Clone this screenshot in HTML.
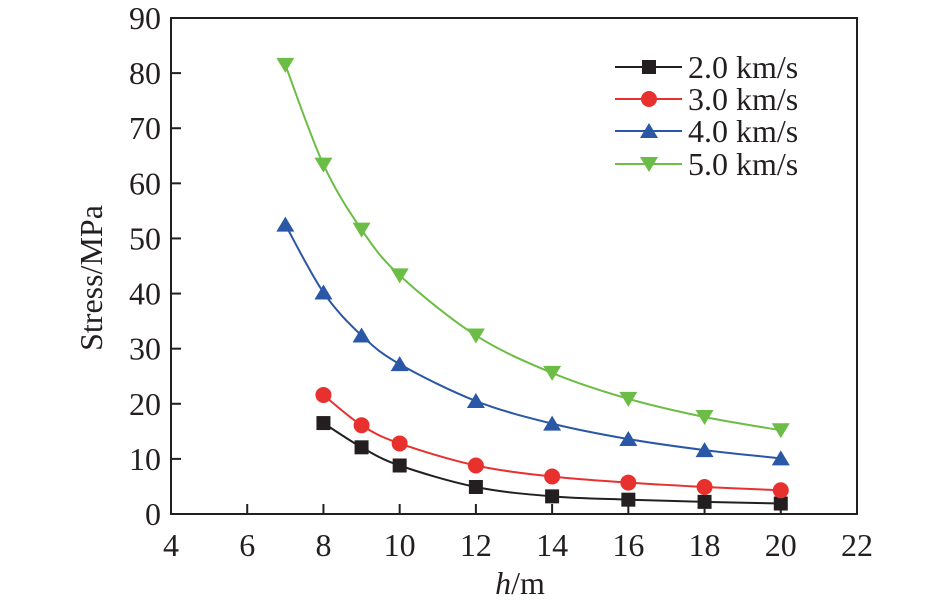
<!DOCTYPE html>
<html><head><meta charset="utf-8"><style>
html,body{margin:0;padding:0;background:#fff;}
svg{display:block;font-family:"Liberation Serif",serif;}
</style></head><body>
<svg id="chart" width="945" height="608" viewBox="0 0 945 608" xmlns="http://www.w3.org/2000/svg">
<g id="axes"></g><g id="series"></g><g id="legend"></g>
</svg>
<script>
const categoriesA = [8, 9, 10, 12, 14, 16, 18, 20];
const categoriesB = [7, 8, 9, 10, 12, 14, 16, 18, 20];
const series2 = [16.5, 12.1, 8.8, 4.9, 3.2, 2.6, 2.2, 1.9];
const series3 = [21.6, 16.1, 12.8, 8.8, 6.8, 5.7, 4.9, 4.3];
const series4 = [52.5, 40.2, 32.4, 27.2, 20.5, 16.4, 13.6, 11.6, 10.1];
const series5 = [81.5, 63.4, 51.6, 43.3, 32.4, 25.6, 20.9, 17.6, 15.2];
const seriesNames = ["2.0 km/s", "3.0 km/s", "4.0 km/s", "5.0 km/s"];
const xTicks = [4, 6, 8, 10, 12, 14, 16, 18, 20, 22];
const yTicks = [0, 10, 20, 30, 40, 50, 60, 70, 80, 90];

const NS = "http://www.w3.org/2000/svg";
const L = 171, R = 857, T = 18, B = 514;
const X = v => L + (v - 4) / 18 * (R - L);
const Y = v => B - v / 90 * (B - T);
function mk(tag, attrs, parent) {
  const e = document.createElementNS(NS, tag);
  for (const k in attrs) e.setAttribute(k, attrs[k]);
  parent.appendChild(e);
  return e;
}
const axes = document.getElementById("axes");
const frame = mk("rect", {x: L, y: T, width: R - L, height: B - T, fill: "none", stroke: "#231f20", "stroke-width": 2}, axes);


xTicks.forEach(t => {
  const ln = mk("line", {x1: X(t), x2: X(t), y1: B, y2: B - 10, stroke: "#231f20", "stroke-width": 2}, axes);
  
  
  const tx = mk("text", {x: X(t), y: B + 42, "text-anchor": "middle", "font-size": 32, fill: "#231f20"}, axes);
  tx.textContent = t;
  
  
});
yTicks.forEach(t => {
  const ln = mk("line", {x1: L, x2: L + 10, y1: Y(t), y2: Y(t), stroke: "#231f20", "stroke-width": 2}, axes);
  
  
  const tx = mk("text", {x: L - 10, y: Y(t) + 11, "text-anchor": "end", "font-size": 32, fill: "#231f20"}, axes);
  tx.textContent = t;
  
  
});
const xt = mk("text", {x: (L + R) / 2 + 6, y: 594, "text-anchor": "middle", "font-size": 32, fill: "#231f20"}, axes);
xt.innerHTML = '<tspan font-style="italic">h</tspan>/m';


const yt = mk("text", {x: 0, y: 0, transform: "translate(102," + ((T + B) / 2 + 12) + ") rotate(-90)", "text-anchor": "middle", "font-size": 32, fill: "#231f20"}, axes);
yt.textContent = "Stress/MPa";



function smooth(pts) {
  let d = "M" + pts[0][0] + "," + pts[0][1];
  for (let i = 0; i < pts.length - 1; i++) {
    const p0 = pts[Math.max(0, i - 1)], p1 = pts[i], p2 = pts[i + 1], p3 = pts[Math.min(pts.length - 1, i + 2)];
    const c1 = [p1[0] + (p2[0] - p0[0]) / 6, p1[1] + (p2[1] - p0[1]) / 6];
    const c2 = [p2[0] - (p3[0] - p1[0]) / 6, p2[1] - (p3[1] - p1[1]) / 6];
    d += " C" + c1 + " " + c2 + " " + p2;
  }
  return d;
}
function marker(shape, cx, cy, color, parent) {
  let e;
  if (shape === "square") e = mk("rect", {x: cx - 7, y: cy - 7, width: 14, height: 14, fill: color}, parent);
  else if (shape === "circle") e = mk("circle", {cx: cx, cy: cy, r: 8, fill: color}, parent);
  else if (shape === "up") e = mk("polygon", {points: `${cx},${cy - 8} ${cx - 9},${cy + 7} ${cx + 9},${cy + 7}`, fill: color}, parent);
  else e = mk("polygon", {points: `${cx},${cy + 8} ${cx - 9},${cy - 7} ${cx + 9},${cy - 7}`, fill: color}, parent);
  return e;
}
const defs = [
  {xs: categoriesA, ys: series2, color: "#231f20", shape: "square"},
  {xs: categoriesA, ys: series3, color: "#e8312f", shape: "circle"},
  {xs: categoriesB, ys: series4, color: "#2a57a6", shape: "up"},
  {xs: categoriesB, ys: series5, color: "#6cbd45", shape: "down"}
];
const sg = document.getElementById("series");
const lg = document.getElementById("legend");
const legY = [67, 99, 131, 164];
defs.forEach((s, i) => {
  const pts = s.xs.map((x, j) => [X(x), Y(s.ys[j])]);
  const p = mk("path", {d: smooth(pts), fill: "none", stroke: s.color, "stroke-width": 2}, sg);
  
  
  pts.forEach(pt => {
    const m = marker(s.shape, pt[0], pt[1], s.color, sg);
    
    
  });
  const ll = mk("line", {x1: 615, x2: 682, y1: legY[i], y2: legY[i], stroke: s.color, "stroke-width": 2}, lg);
  
  
  const lm = marker(s.shape, 649, legY[i], s.color, lg);
  
  
  const lt = mk("text", {x: 688, y: legY[i] + 11, "font-size": 32, fill: "#231f20"}, lg);
  lt.textContent = seriesNames[i];
  
  
});
</script>
</body></html>
